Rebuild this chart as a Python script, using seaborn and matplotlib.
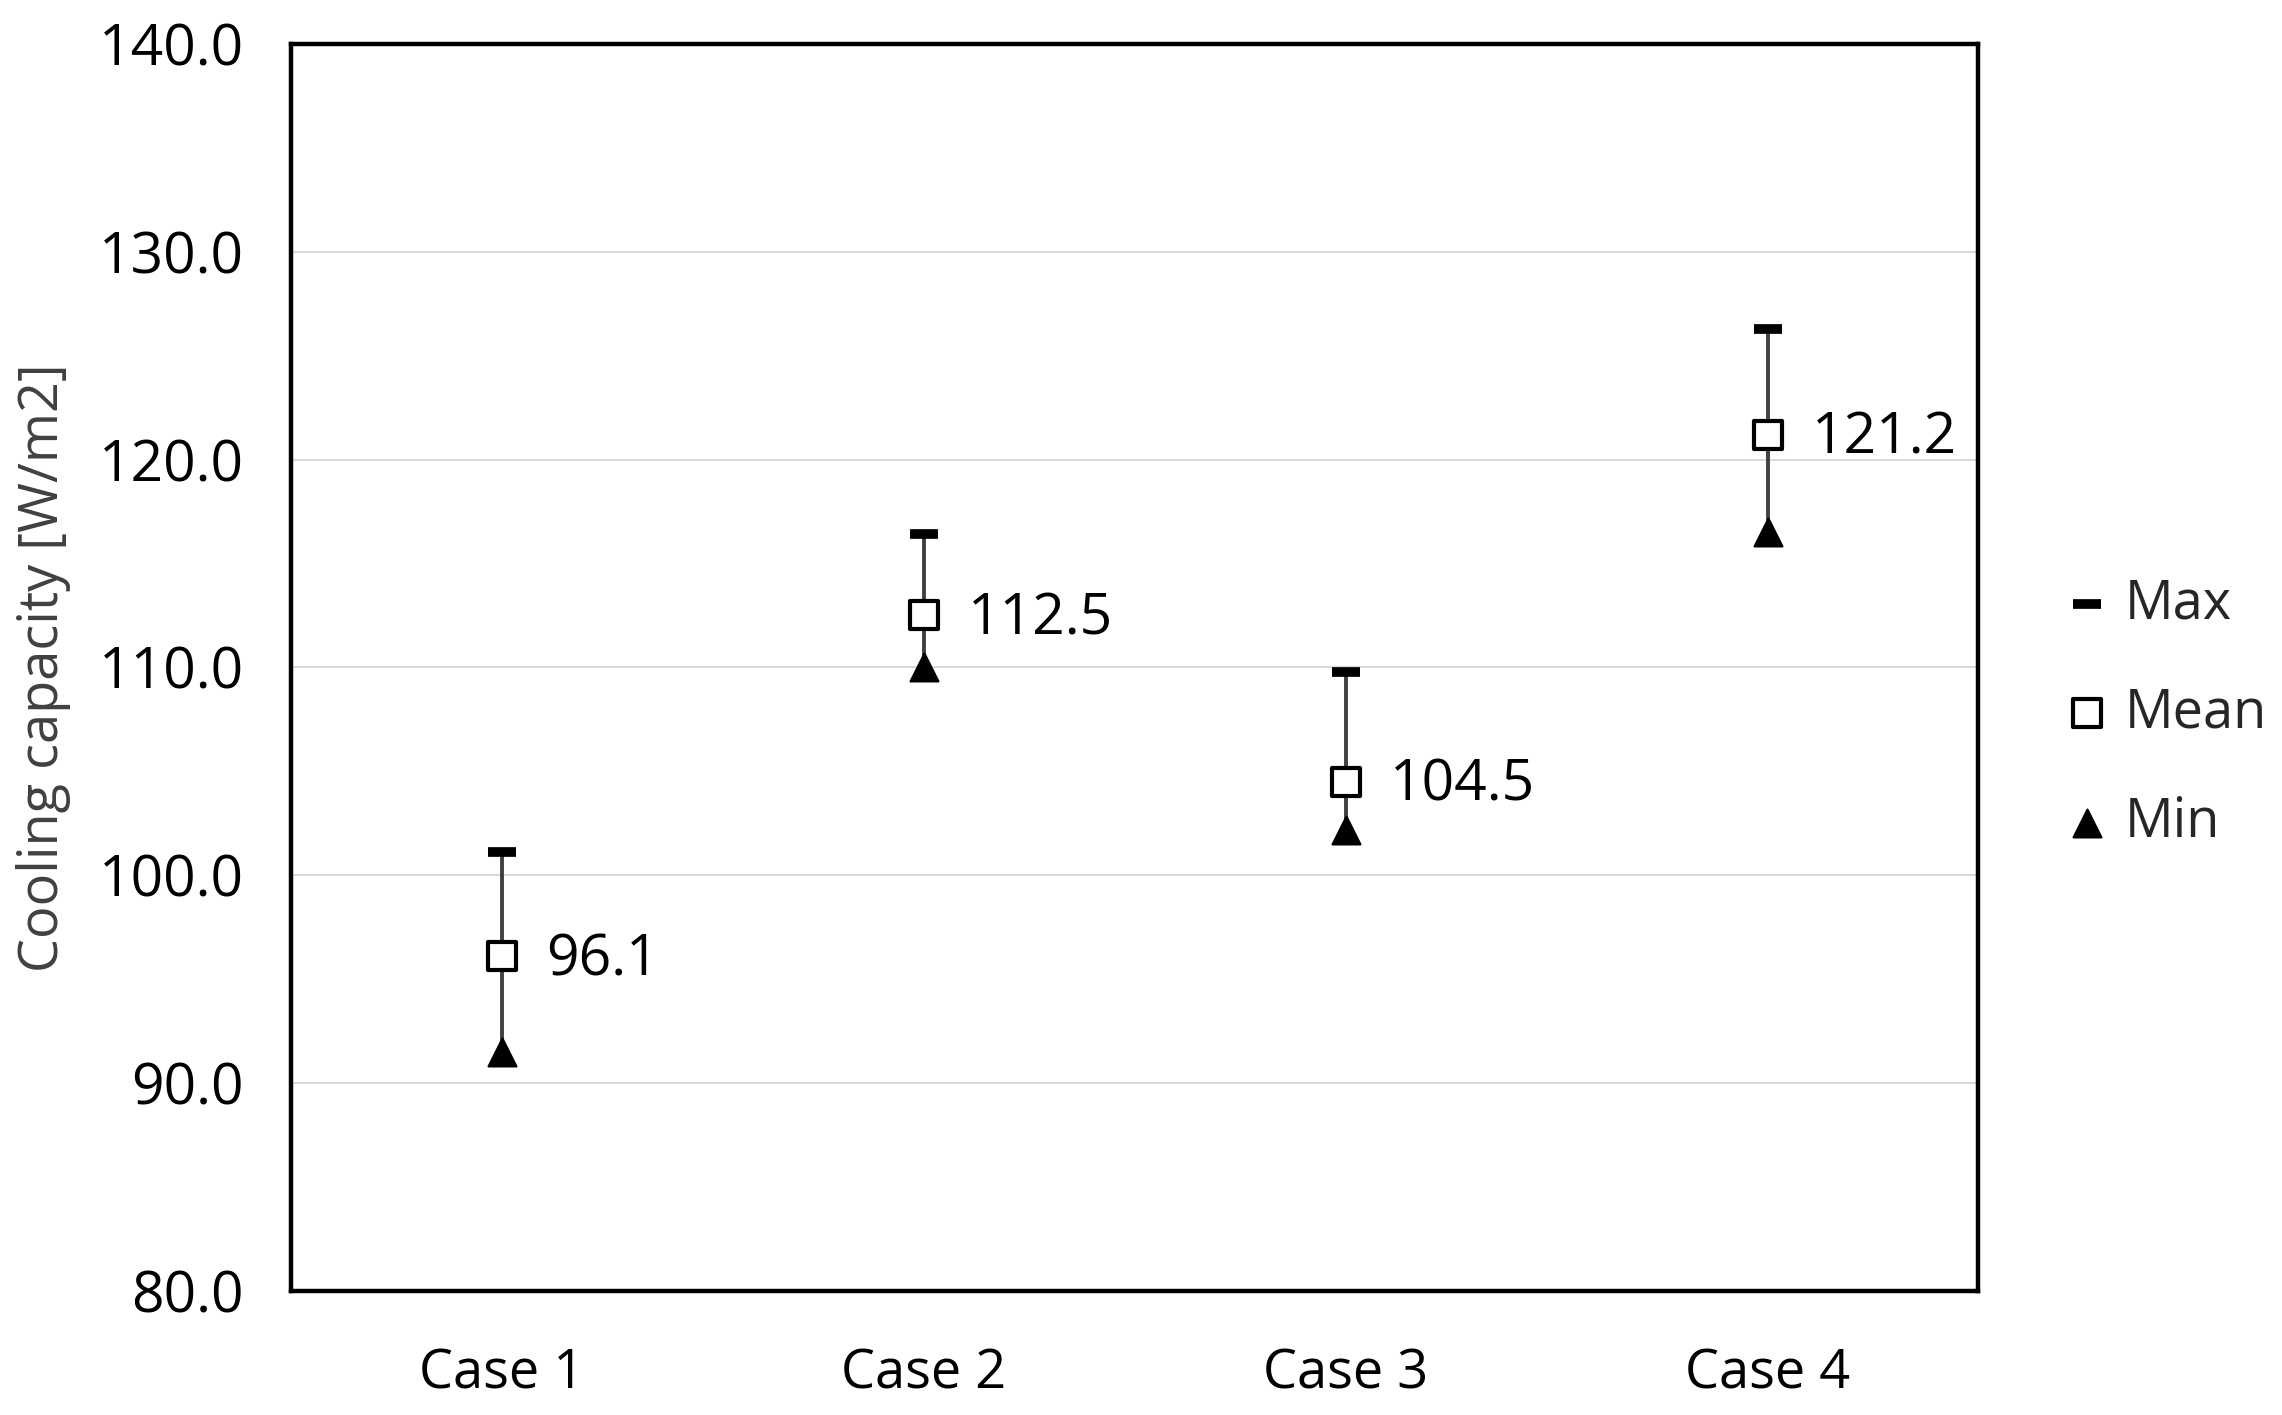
import matplotlib
matplotlib.use("Agg")
import matplotlib.pyplot as plt
import pandas as pd
import seaborn as sns

cases = ["Case 1", "Case 2", "Case 3", "Case 4"]
max_vals = [101.1, 116.4, 109.8, 126.3]
mean_vals = [96.1, 112.5, 104.5, 121.2]
min_vals = [91.5, 110.0, 102.2, 116.5]

yticks = [80.0, 90.0, 100.0, 110.0, 120.0, 130.0, 140.0]

df = pd.DataFrame({"case": cases, "max": max_vals, "mean": mean_vals, "min": min_vals})
df["pos"] = range(len(cases))

sns.set_theme(style="white")
plt.rcParams["font.family"] = ["Open Sans", "DejaVu Sans"]

fig, ax = plt.subplots(figsize=(22.82, 14.15), dpi=100)
fig.subplots_adjust(left=0.1275, right=0.867, top=0.969, bottom=0.0876)

ax.vlines(df["pos"], df["min"], df["max"], color="#404040", linewidth=2.8, zorder=2)

sns.scatterplot(data=df, x="pos", y="max", marker="_", s=420, color="black",
                linewidth=7, ax=ax, zorder=3, label="Max")
sns.scatterplot(data=df, x="pos", y="mean", marker="s", s=400, facecolor="white",
                edgecolor="black", linewidth=3, ax=ax, zorder=4, label="Mean")
sns.scatterplot(data=df, x="pos", y="min", marker="^", s=400, color="black",
                edgecolor="black", ax=ax, zorder=3, label="Min")

for x, y in zip(df["pos"], df["mean"]):
    ax.annotate(f"{y:.1f}", (x, y), xytext=(32, -3), textcoords="offset points",
                ha="left", va="center", fontsize=41, color="black")

ax.set_xlim(-0.5, len(cases) - 0.5)
ax.set_ylim(80, 140)
ax.set_xticks(df["pos"])
ax.set_xticklabels(cases)
ax.set_yticks(yticks)
ax.set_yticklabels([f"{v:.1f}" for v in yticks])
ax.tick_params(axis="x", labelsize=39, colors="black", length=0, pad=40)
ax.tick_params(axis="y", labelsize=41, colors="black", length=0, pad=34)
ax.yaxis.grid(True, color="#d9d9d9", linewidth=1.5)
ax.set_axisbelow(True)
for s in ax.spines.values():
    s.set_color("black")
    s.set_linewidth(3.2)

ax.set_xlabel("")
ax.set_ylabel("Cooling capacity [W/m2]", fontsize=39, color="#404040", labelpad=20)

ax.legend(loc="center left", bbox_to_anchor=(0.898, 0.496), bbox_transform=fig.transFigure,
          frameon=False, fontsize=39, handlelength=0.6, handletextpad=0.4,
          labelspacing=1.0, borderaxespad=0)

fig.savefig("out.png", dpi=100)
